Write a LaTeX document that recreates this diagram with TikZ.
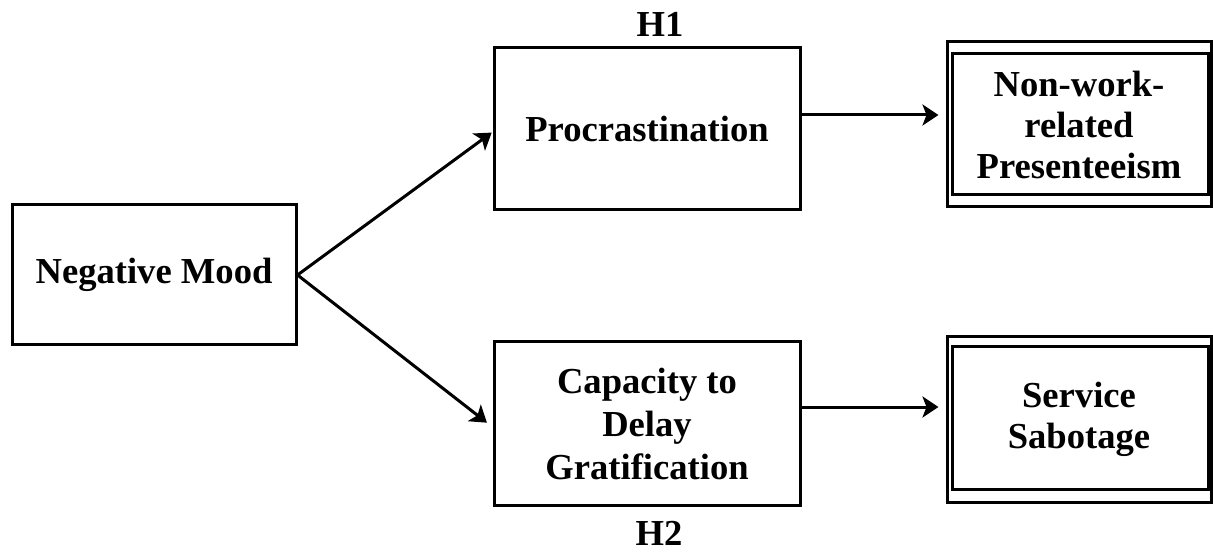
\documentclass[tikz,border=0pt]{standalone}
\usepackage{fontspec}
\setmainfont{Liberation Serif}
\usetikzlibrary{arrows.meta}
\tikzset{
  box/.style={draw=black, line width=3pt, rectangle, align=center, inner sep=0pt,
    font=\fontsize{36.6}{41}\selectfont\bfseries},
  innerline/.style={draw=black, line width=2.6pt},
  lbl/.style={inner sep=0pt, font=\fontsize{36.6}{41}\selectfont\bfseries},
  arr/.style={draw=black, line width=3pt,
    -{Stealth[length=16pt,width=21pt,inset=4pt]}}
}
\begin{document}
\begin{tikzpicture}[x=1pt,y=-1pt]
\useasboundingbox (0,0) rectangle (1213,553);
\node[box, minimum width=284pt, minimum height=140pt] (neg) at (154,275) {Negative Mood};
\node[box, minimum width=306pt, minimum height=162pt] (proc) at (647,129) {Procrastination};
\node[box, minimum width=306pt, minimum height=163pt, font=\fontsize{36.6}{43}\selectfont\bfseries] (cap) at (647,423.5) {Capacity to\\Delay\\Gratification};
\node[box, minimum width=264pt, minimum height=165pt] (nw) at (1079,124.5) {Non-work-\\related\\Presenteeism};
\node[box, minimum width=264pt, minimum height=165pt] (ss) at (1079,419.5) {Service\\Sabotage};
\draw[innerline] ([xshift=7pt,yshift=-13pt]nw.north west) rectangle ([xshift=-4pt,yshift=14pt]nw.south east);
\draw[innerline] ([xshift=7pt,yshift=-11pt]ss.north west) rectangle ([xshift=-4pt,yshift=14pt]ss.south east);
\node[lbl] (h1) at (660,24.5) {H1};
\node[lbl] (h2) at (659,533) {H2};
\draw[arr, shorten >=1pt] (neg.east) -- ([yshift=-3pt]proc.west);
\draw[arr, shorten >=7pt] (neg.east) -- ([yshift=-3.5pt]cap.west);
\draw[arr, shorten >=7pt] ([yshift=14pt]proc.east) -- ([yshift=9.5pt]nw.west);
\draw[arr, shorten >=7pt] ([yshift=16.5pt]cap.east) -- ([yshift=12.5pt]ss.west);
\end{tikzpicture}
\end{document}
